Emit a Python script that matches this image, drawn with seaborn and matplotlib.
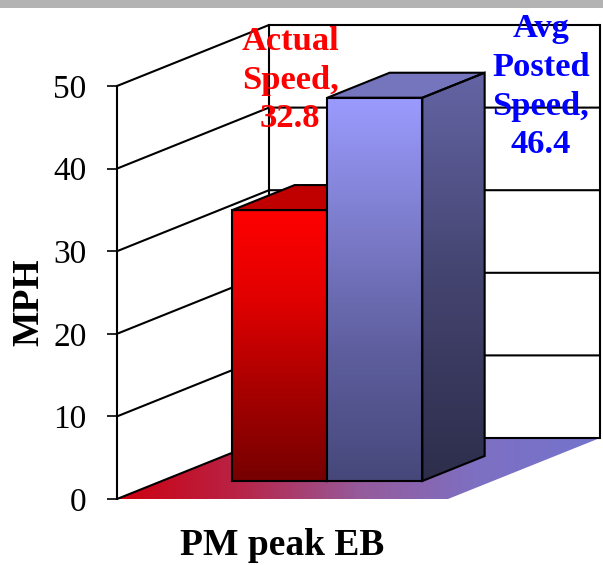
import textwrap
import numpy as np
import pandas as pd
import matplotlib
matplotlib.use("Agg")
import matplotlib.pyplot as plt
from matplotlib.patches import Polygon, Rectangle
from matplotlib.transforms import Affine2D
import seaborn as sns

# ---- data ----
period = ["PM peak EB"]
series = ["Actual Speed", "Avg Posted Speed"]
mph = [32.8, 46.4]
yticks = [0, 10, 20, 30, 40, 50]

# ---- style ----
plt.rcParams["font.family"] = ["Liberation Serif", "DejaVu Serif"]
label_colors = ["#ff0000", "#0000ff"]
palette = ["#ff0000", "#9b9bff"]
# gradient stops (position from bottom, rgb)
front_stops = [
    [(0.0, (118, 0, 0)), (0.35, (170, 0, 0)), (0.67, (225, 0, 0)), (1.0, (255, 0, 0))],
    [(0.0, (70, 72, 122)), (0.35, (95, 95, 160)), (0.67, (125, 125, 205)), (1.0, (155, 155, 255))],
]
side_stops = [
    [(0.0, (80, 0, 0)), (1.0, (170, 0, 0))],
    [(0.0, (45, 45, 75)), (0.5, (68, 68, 112)), (1.0, (100, 100, 165))],
]
top_colors = ["#c00000", "#7575bd"]
floor_stops = [(0.0, (205, 0, 15)), (0.25, (185, 35, 70)), (0.5, (150, 90, 155)),
               (0.75, (125, 112, 195)), (1.0, (115, 115, 205))]

W, H = 603, 565
PX_X = 331.0          # pixels per x unit
PX_Y = 8.26           # pixels per mph
ORIGIN = (117, 499)   # pixel location of (x=-0.5, y=0), from top-left
DX, DY = 152 / PX_X, 61 / PX_Y   # full depth of the box in data units
F1, F2 = 0.295, 0.705            # front / back depth of the bars
LW = 1.5


def gradient(stops, n=256):
    t = np.linspace(0, 1, n)
    pos = [s[0] for s in stops]
    rgb = np.array([s[1] for s in stops], dtype=float) / 255
    return np.stack([np.interp(t, pos, rgb[:, c]) for c in range(3)], axis=-1)


fig = plt.figure(figsize=(W / 100, H / 100), dpi=100)
ax = fig.add_axes([0, 0, 1, 1])

df = pd.DataFrame({"period": period * len(series), "series": series, "mph": mph})
sns.barplot(data=df, x="period", y="mph", hue="series", palette=palette,
            width=0.574, gap=0, dodge=True, saturation=1, errorbar=None,
            edgecolor="black", linewidth=LW, legend=False, ax=ax)
bars = sorted([p for p in ax.patches if isinstance(p, Rectangle)], key=lambda p: p.get_x())

# ---- box: walls, floor, gridlines ----
x_l, x_r = -0.5, 0.5
ax.add_patch(Polygon([(x_l, 0), (x_l + DX, DY), (x_l + DX, 50 + DY), (x_l, 50)],
                     facecolor="white", edgecolor="none", zorder=0.5))
ax.add_patch(Polygon([(x_l + DX, DY), (x_r + DX, DY), (x_r + DX, 50 + DY), (x_l + DX, 50 + DY)],
                     facecolor="white", edgecolor="none", zorder=0.5))
floor = Polygon([(x_l, 0), (x_r, 0), (x_r + DX, DY), (x_l + DX, DY)],
                facecolor="none", edgecolor="none", zorder=1.5)
ax.add_patch(floor)
ax.imshow(gradient(floor_stops)[None, :, :], extent=(x_l, x_r + DX, 0, DY),
          origin="lower", aspect="auto", interpolation="bilinear", zorder=1.4,
          clip_path=floor)

for v in yticks:
    ax.plot([x_l, x_l + DX, x_r + DX], [v, v + DY, v + DY], color="black",
            lw=LW, zorder=2, solid_capstyle="butt")
for xv in (x_l + DX, x_r + DX):
    ax.plot([xv, xv], [DY, 50 + DY], color="black", lw=LW, zorder=2)

# ---- 3D bars built from the seaborn rectangles ----
shift = Affine2D().translate(F1 * DX, F1 * DY) + ax.transData
for i, patch in enumerate(bars):
    z = 3 + i
    x0 = patch.get_x()
    w = patch.get_width()
    h = patch.get_height()
    x1 = x0 + w
    patch.set_transform(shift)
    patch.set_facecolor("none")
    patch.set_zorder(z + 0.3)
    ax.imshow(gradient(front_stops[i])[:, None, :],
              extent=(x0 + F1 * DX, x1 + F1 * DX, F1 * DY, h + F1 * DY),
              origin="lower", aspect="auto", interpolation="bilinear",
              zorder=z + 0.1, clip_path=patch)
    top = Polygon([(x0 + F1 * DX, h + F1 * DY), (x1 + F1 * DX, h + F1 * DY),
                   (x1 + F2 * DX, h + F2 * DY), (x0 + F2 * DX, h + F2 * DY)],
                  facecolor=top_colors[i], edgecolor="black", lw=LW, zorder=z + 0.2)
    ax.add_patch(top)
    side = Polygon([(x1 + F1 * DX, F1 * DY), (x1 + F2 * DX, F2 * DY),
                    (x1 + F2 * DX, h + F2 * DY), (x1 + F1 * DX, h + F1 * DY)],
                   facecolor="none", edgecolor="black", lw=LW, zorder=z + 0.2)
    ax.add_patch(side)
    ax.imshow(gradient(side_stops[i])[:, None, :],
              extent=(x1 + F1 * DX, x1 + F2 * DX, F1 * DY, h + F2 * DY),
              origin="lower", aspect="auto", interpolation="bilinear",
              zorder=z + 0.1, clip_path=side)

# ---- data labels ----
label_pos = [(0.023, 50.7), (0.781, 49.9)]
for i, (name, val) in enumerate(zip(series, mph)):
    ax.text(*label_pos[i], textwrap.fill(f"{name},", 6) + f"\n{val}",
            ha="center", va="center", multialignment="center", linespacing=1.32,
            color=label_colors[i], fontsize=24.8, fontweight="bold", zorder=10)

# ---- axes styling ----
ax.set_xlim(-0.5 - ORIGIN[0] / PX_X, -0.5 + (W - ORIGIN[0]) / PX_X)
ax.set_ylim(-(H - ORIGIN[1]) / PX_Y, ORIGIN[1] / PX_Y)
for s in ("top", "right"):
    ax.spines[s].set_visible(False)
ax.spines["left"].set_position(("data", -0.5))
ax.spines["left"].set_bounds(0, 50)
ax.spines["left"].set_linewidth(LW)
ax.spines["left"].set_zorder(2.5)
ax.spines["bottom"].set_position(("data", 0))
ax.spines["bottom"].set_visible(False)
ax.set_yticks(yticks)
ax.set_yticklabels([str(t) for t in yticks])
ax.tick_params(axis="y", direction="out", length=7, width=1.2, pad=15, labelsize=24)
ax.tick_params(axis="x", length=0, pad=21, labelsize=27)
for lbl in ax.get_xticklabels():
    lbl.set_fontweight("bold")
ax.set_xlabel("")
ax.set_ylabel("MPH", fontsize=27, fontweight="bold", va="center")
ax.yaxis.set_label_coords(28.5 / W, (H - 302) / H)
ax.set_facecolor("white")

# grey band across the top
fig.add_artist(Rectangle((0, 1 - 8 / H), 1, 8 / H, transform=fig.transFigure,
                         facecolor="#b3b3b3", edgecolor="none"))

fig.savefig("out.png", dpi=100)
